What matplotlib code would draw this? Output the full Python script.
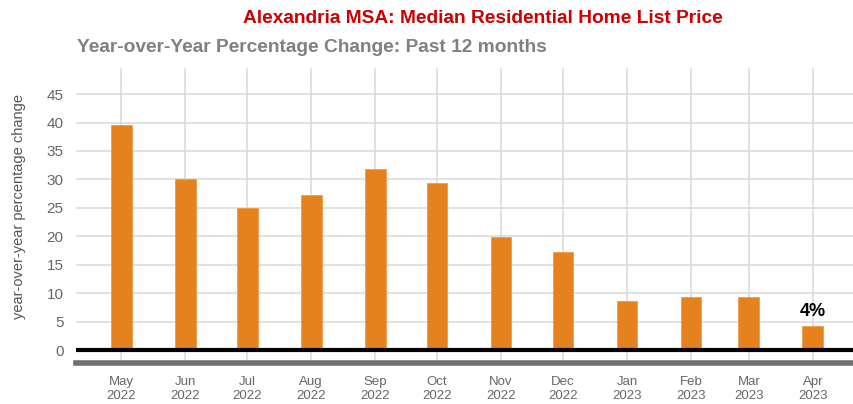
import datetime as dt
import matplotlib
matplotlib.use('Agg')
import matplotlib.pyplot as plt

# data
months = ['2022-05-01', '2022-06-01', '2022-07-01', '2022-08-01', '2022-09-01', '2022-10-01',
          '2022-11-01', '2022-12-01', '2023-01-01', '2023-02-01', '2023-03-01', '2023-04-01']
yoy_change = [39.5, 30.1, 25.0, 27.3, 31.8, 29.4, 19.9, 17.3, 8.7, 9.3, 9.4, 4.3]
tick_labels = ['May\n2022', 'Jun\n2022', 'Jul\n2022', 'Aug\n2022', 'Sep\n2022', 'Oct\n2022',
               'Nov\n2022', 'Dec\n2022', 'Jan\n2023', 'Feb\n2023', 'Mar\n2023', 'Apr\n2023']
last_label = '4%'

dates = [dt.datetime.strptime(m, '%Y-%m-%d') for m in months]

plt.rcParams['font.family'] = ['Liberation Sans', 'DejaVu Sans']

fig = plt.figure(figsize=(8.54, 4.04), dpi=100)
ax = fig.add_axes([0.089, 0.0965, 0.911, 0.7355])

ax.bar(dates, yoy_change, width=10, color='#e6821e', edgecolor='#f09a4a', linewidth=0.6, zorder=3)

ax.set_ylim(-2.6, 49.6)
ax.set_xlim(dates[0] - dt.timedelta(days=22), dates[-1] + dt.timedelta(days=20))
ax.set_yticks(range(0, 50, 5))
ax.set_xticks(dates)
ax.set_xticklabels(tick_labels)
ax.tick_params(axis='y', length=0, labelsize=11, labelcolor='#666666', pad=9)
ax.tick_params(axis='x', length=0, labelsize=9.5, labelcolor='#666666', pad=9)
for lab in ax.get_xticklabels():
    lab.set_linespacing(1.0)

ax.grid(True, color='#d9d9d9', linewidth=1.1, zorder=0)
ax.axhline(0, color='black', linewidth=3, zorder=4)

for s in ['top', 'right', 'left']:
    ax.spines[s].set_visible(False)
ax.spines['bottom'].set_color('#707070')
ax.spines['bottom'].set_linewidth(4)
ax.spines['bottom'].set_position(('data', -2.3))

ax.set_ylabel('year-over-year percentage change', fontsize=10.5, color='#555555')
ax.yaxis.set_label_coords(-0.064, 0.535)

ax.annotate(last_label, (dates[-1], yoy_change[-1]), xytext=(0, 4), textcoords='offset points',
            ha='center', va='bottom', fontsize=13, fontweight='bold', color='black')

fig.text(0.565, 0.955, 'Alexandria MSA: Median Residential Home List Price',
         ha='center', va='center', fontsize=13.8, fontweight='bold', color='#cc0000')
fig.text(0.09, 0.882, 'Year-over-Year Percentage Change: Past 12 months',
         ha='left', va='center', fontsize=13.8, fontweight='bold', color='#808080')

fig.savefig('out.png', dpi=100)
